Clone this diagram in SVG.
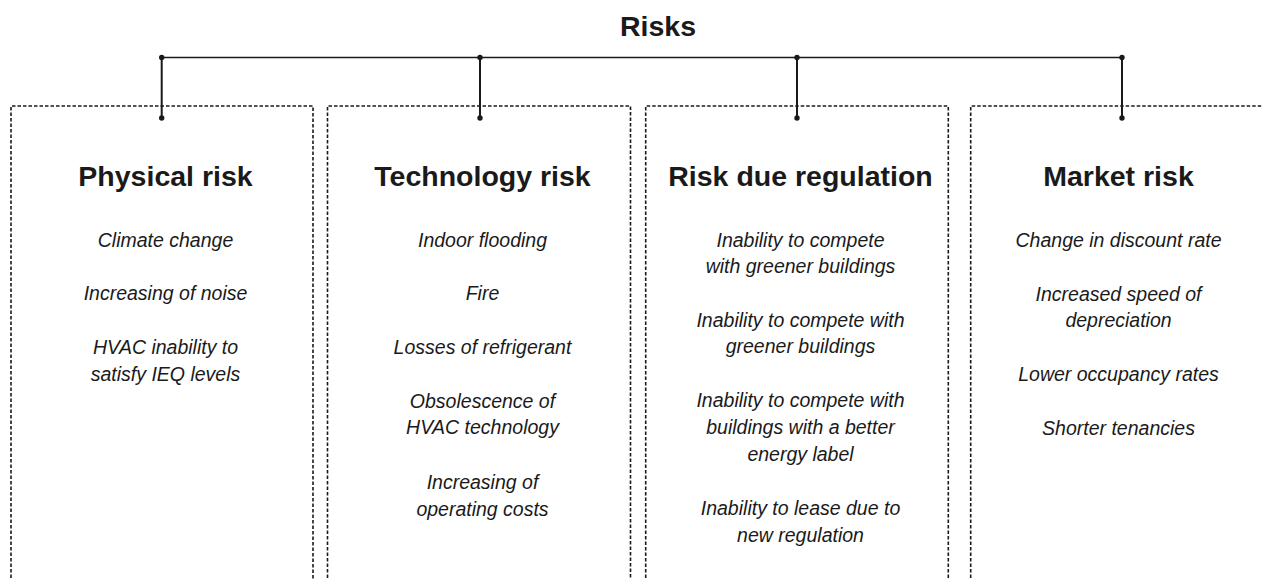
<svg xmlns="http://www.w3.org/2000/svg" width="1263" height="579" viewBox="0 0 1263 579">
<style>
.box{fill:none;stroke:#1a1a1a;stroke-width:1.6;stroke-dasharray:3.5 2}
.h{font-family:"Liberation Sans",Arial,sans-serif;font-weight:bold;font-size:28.5px;fill:#1a1a1a;text-anchor:middle}
.t{font-family:"Liberation Sans",Arial,sans-serif;font-style:italic;font-size:19.5px;fill:#1a1a1a;text-anchor:middle}
.ln{stroke:#1a1a1a;stroke-width:2;fill:none}
.dot{fill:#1a1a1a}
</style>
<rect width="1263" height="579" fill="#ffffff"/>
<g id="title"><text class="h" x="658" y="36">Risks</text></g>
<g id="connectors">
<line class="ln" x1="161.7" y1="57.5" x2="1122" y2="57.5" style="stroke-width:1.7"/>
<line class="ln" x1="161.7" y1="57.5" x2="161.7" y2="118"/>
<line class="ln" x1="480" y1="57.5" x2="480" y2="118"/>
<line class="ln" x1="797" y1="57.5" x2="797" y2="118"/>
<line class="ln" x1="1122" y1="57.5" x2="1122" y2="118"/>
<circle class="dot" cx="161.7" cy="57.5" r="2.7"/><circle class="dot" cx="161.7" cy="118" r="2.7"/>
<circle class="dot" cx="480" cy="57.5" r="2.7"/><circle class="dot" cx="480" cy="118" r="2.7"/>
<circle class="dot" cx="797" cy="57.5" r="2.7"/><circle class="dot" cx="797" cy="118" r="2.7"/>
<circle class="dot" cx="1122" cy="57.5" r="2.7"/><circle class="dot" cx="1122" cy="118" r="2.7"/>
</g>
<g id="physical">
<path class="box" d="M11,600 V106 H313 V600"/>
<text class="h" x="165.5" y="186">Physical risk</text>
<text class="t" x="165.5" y="246.7">Climate change</text>
<text class="t" x="165.5" y="300.3">Increasing of noise</text>
<text class="t" x="165.5" y="354">HVAC inability to</text>
<text class="t" x="165.5" y="380.7">satisfy IEQ levels</text>
</g>
<g id="technology">
<path class="box" d="M327.5,600 V106 H630.5 V600"/>
<text class="h" x="482.5" y="186">Technology risk</text>
<text class="t" x="482.5" y="246.7">Indoor flooding</text>
<text class="t" x="482.5" y="300.3">Fire</text>
<text class="t" x="482.5" y="354">Losses of refrigerant</text>
<text class="t" x="482.5" y="407.5">Obsolescence of</text>
<text class="t" x="482.5" y="434.2">HVAC technology</text>
<text class="t" x="482.5" y="489">Increasing of</text>
<text class="t" x="482.5" y="515.7">operating costs</text>
</g>
<g id="regulation">
<path class="box" d="M645.7,600 V106 H948.3 V600"/>
<text class="h" x="800.5" y="186">Risk due regulation</text>
<text class="t" x="800.5" y="246.7">Inability to compete</text>
<text class="t" x="800.5" y="273.3">with greener buildings</text>
<text class="t" x="800.5" y="326.7">Inability to compete with</text>
<text class="t" x="800.5" y="353.3">greener buildings</text>
<text class="t" x="800.5" y="407.3">Inability to compete with</text>
<text class="t" x="800.5" y="434">buildings with a better</text>
<text class="t" x="800.5" y="460.7">energy label</text>
<text class="t" x="800.5" y="515">Inability to lease due to</text>
<text class="t" x="800.5" y="541.7">new regulation</text>
</g>
<g id="market">
<path class="box" d="M970.7,600 V106 H1300"/>
<text class="h" x="1118.5" y="186">Market risk</text>
<text class="t" x="1118.5" y="246.7">Change in discount rate</text>
<text class="t" x="1118.5" y="300.7">Increased speed of</text>
<text class="t" x="1118.5" y="327.3">depreciation</text>
<text class="t" x="1118.5" y="380.7">Lower occupancy rates</text>
<text class="t" x="1118.5" y="435">Shorter tenancies</text>
</g>
</svg>
